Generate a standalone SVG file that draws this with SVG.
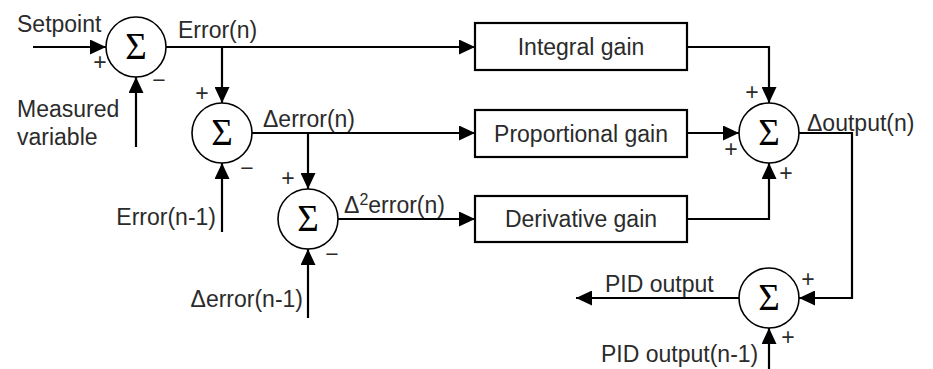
<svg xmlns="http://www.w3.org/2000/svg" width="933" height="369" viewBox="0 0 933 369">
<style>
text{font-family:"Liberation Sans",Arial,sans-serif;font-size:23px;fill:#2b2b2b}
.sig{font-family:"Liberation Serif","Times New Roman",serif;font-size:37px;text-anchor:middle;fill:#000}
.sg{text-anchor:middle}
.c{fill:#fff;stroke:#000;stroke-width:1.6}
.b{fill:#fff;stroke:#000;stroke-width:2.2}
.w{fill:none;stroke:#000;stroke-width:2.2}
.m{text-anchor:middle}
</style>
<defs>
<marker id="ah" markerUnits="userSpaceOnUse" markerWidth="16" markerHeight="15" refX="16" refY="7.5" orient="auto">
<path d="M0,0 L16,7.5 L0,15 z" fill="#000"/>
</marker>
</defs>
<rect width="933" height="369" fill="#fff"/>
<g id="connectors">
<path class="w" d="M33,47 H106" marker-end="url(#ah)"/>
<path class="w" d="M136,147 V77" marker-end="url(#ah)"/>
<path class="w" d="M166,47 H475" marker-end="url(#ah)"/>
<path class="w" d="M222,47 V103" marker-end="url(#ah)"/>
<path class="w" d="M222,232 V163" marker-end="url(#ah)"/>
<path class="w" d="M252,133 H475" marker-end="url(#ah)"/>
<path class="w" d="M308,133 V189" marker-end="url(#ah)"/>
<path class="w" d="M308,318 V249" marker-end="url(#ah)"/>
<path class="w" d="M338,219 H475" marker-end="url(#ah)"/>
<path class="w" d="M687,47 H769 V103" marker-end="url(#ah)"/>
<path class="w" d="M687,133 H739" marker-end="url(#ah)"/>
<path class="w" d="M687,219 H769 V163" marker-end="url(#ah)"/>
<path class="w" d="M799,133 H852 V298 H799" marker-end="url(#ah)"/>
<path class="w" d="M739,298 H576" marker-end="url(#ah)"/>
<path class="w" d="M769,369 V328" marker-end="url(#ah)"/>
</g>
<g id="labels">
<text x="17" y="32">Setpoint</text>
<text x="17" y="117">Measured</text>
<text x="17" y="145">variable</text>
<text x="178" y="38">Error(n)</text>
<text x="216" y="225" text-anchor="end">Error(n-1)</text>
<text x="263" y="127">Δerror(n)</text>
<text x="303" y="307" text-anchor="end">Δerror(n-1)</text>
<text x="344" y="213">Δ<tspan font-size="16" dy="-8">2</tspan><tspan dy="8">error(n)</tspan></text>
<text x="807" y="131">Δoutput(n)</text>
<text x="605" y="292">PID output</text>
<text x="601" y="362">PID output(n-1)</text>
</g>
<g id="sum1">
<circle class="c" cx="136" cy="47" r="30"/>
<text class="sig" x="136" y="59">Σ</text>
<text class="sg" x="100" y="70">+</text>
<text class="sg" x="159" y="88">−</text>
</g>
<g id="sum2">
<circle class="c" cx="222" cy="133" r="30"/>
<text class="sig" x="222" y="145">Σ</text>
<text class="sg" x="202" y="101">+</text>
<text class="sg" x="247" y="176">−</text>
</g>
<g id="sum3">
<circle class="c" cx="308" cy="219" r="30"/>
<text class="sig" x="308" y="231">Σ</text>
<text class="sg" x="288" y="186">+</text>
<text class="sg" x="332" y="262">−</text>
</g>
<g id="sum4">
<circle class="c" cx="769" cy="133" r="30"/>
<text class="sig" x="769" y="145">Σ</text>
<text class="sg" x="752" y="100">+</text>
<text class="sg" x="731" y="157">+</text>
<text class="sg" x="786" y="181">+</text>
</g>
<g id="sum5">
<circle class="c" cx="769" cy="298" r="30"/>
<text class="sig" x="769" y="310">Σ</text>
<text class="sg" x="808" y="287">+</text>
<text class="sg" x="788" y="345">+</text>
</g>
<g id="integral">
<rect class="b" x="475" y="23" width="212" height="47"/>
<text class="m" x="581" y="55">Integral gain</text>
</g>
<g id="proportional">
<rect class="b" x="475" y="110" width="212" height="47"/>
<text class="m" x="581" y="142">Proportional gain</text>
</g>
<g id="derivative">
<rect class="b" x="475" y="196" width="212" height="46"/>
<text class="m" x="581" y="227">Derivative gain</text>
</g>
</svg>
